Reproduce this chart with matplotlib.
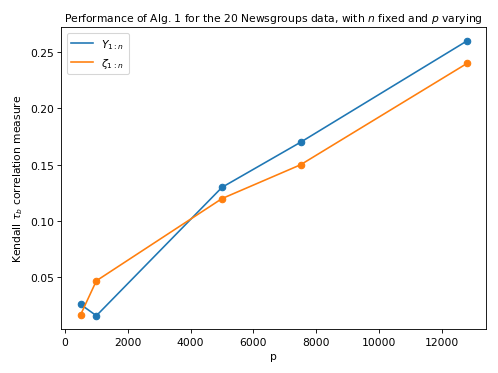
import matplotlib
matplotlib.use("Agg")
import matplotlib.pyplot as plt

# p values and Kendall tau_b for the two estimators
p_vals = [500, 1000, 5000, 7500, 12800]
y_tau = [0.026, 0.016, 0.130, 0.170, 0.260]
zeta_tau = [0.017, 0.047, 0.120, 0.150, 0.240]

dpi = 77.8
fig, ax = plt.subplots(figsize=(498 / dpi, 374 / dpi), dpi=dpi)
# lines carry the legend, dots drawn separately (legend shows lines only)
ax.plot(p_vals, y_tau, color="C0", label=r"$Y_{1:n}$")
ax.scatter(p_vals, y_tau, color="C0")
ax.plot(p_vals, zeta_tau, color="C1", label=r"$\zeta_{1:n}$")
ax.scatter(p_vals, zeta_tau, color="C1")
ax.set_xlabel("p")
ax.set_ylabel(r"Kendall $\tau_b$ correlation measure")
ax.set_title(r"Performance of Alg. 1 for the 20 Newsgroups data, with $n$ fixed and $p$ varying",
             fontsize=10)
ax.legend(loc="upper left")
plt.tight_layout()
plt.savefig("out.png", dpi=dpi)
